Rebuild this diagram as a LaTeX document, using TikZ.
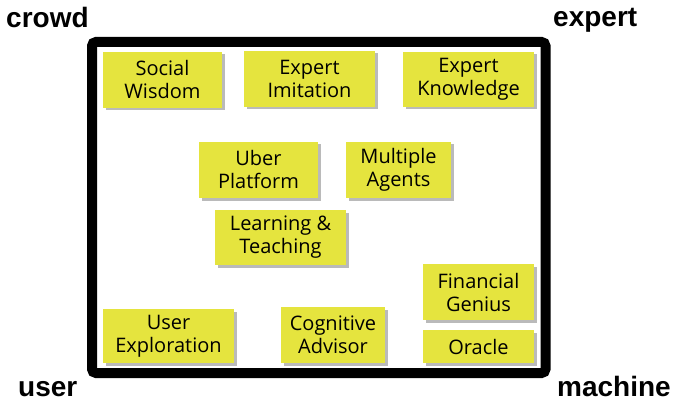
\documentclass[tikz,border=0pt]{standalone}
\usepackage{fontspec}
\setmainfont{Liberation Sans}
\newfontfamily\notefont{Open Sans}
\usetikzlibrary{shadows}

\definecolor{noteyellow}{RGB}{229,228,62}
\def\notesize{\fontsize{20}{23}\selectfont\notefont}
\def\cornersize{\fontsize{28}{30}\selectfont\bfseries}
\def\framewidth{10pt}

\begin{document}
\begin{tikzpicture}[x=1pt,y=-1pt,
    note/.style={fill=noteyellow, align=center, inner sep=0pt, font=\notesize,
        drop shadow={shadow xshift=2.5pt, shadow yshift=-2.5pt, fill=black!60, opacity=0.45}},
    corner/.style={anchor=base west, inner sep=0pt, text depth=0pt, font=\cornersize}]

\useasboundingbox (0,0) rectangle (675,401);

% Frame
\draw[line width=\framewidth, rounded corners=4pt] (92,42) rectangle (545.5,373);

% Corner labels
\node[corner] (crowd) at (6,28) {crowd};
\node[corner] (expert) at (553,27) {expert};
\node[corner] (user) at (18,396) {user};
\node[corner] (machine) at (557,396) {machine};

% Top row
\node[note, minimum width=119, minimum height=56] (social) at (162.5,80) {Social\\Wisdom};
\node[note, minimum width=131, minimum height=56] (imitation) at (309.5,79) {Expert\\Imitation};
\node[note, minimum width=131, minimum height=55] (knowledge) at (468.5,79.5) {Expert\\Knowledge};

% Middle
\node[note, minimum width=119, minimum height=56] (uber) at (258.5,170) {Uber\\Platform};
\node[note, minimum width=105, minimum height=56] (agents) at (398.5,170) {Multiple\\Agents};
\node[note, minimum width=131, minimum height=55] (learning) at (280.5,237.5) {Learning \&\\Teaching};

% Bottom row
\node[note, minimum width=131, minimum height=54] (exploration) at (168.5,336) {User\\Exploration};
\node[note, minimum width=104, minimum height=56] (advisor) at (333,335) {Cognitive\\Advisor};
\node[note, minimum width=111, minimum height=56] (genius) at (478.5,292) {Financial\\Genius};
\node[note, minimum width=111, minimum height=33] (oracle) at (478.5,346.5) {Oracle};

\end{tikzpicture}
\end{document}
